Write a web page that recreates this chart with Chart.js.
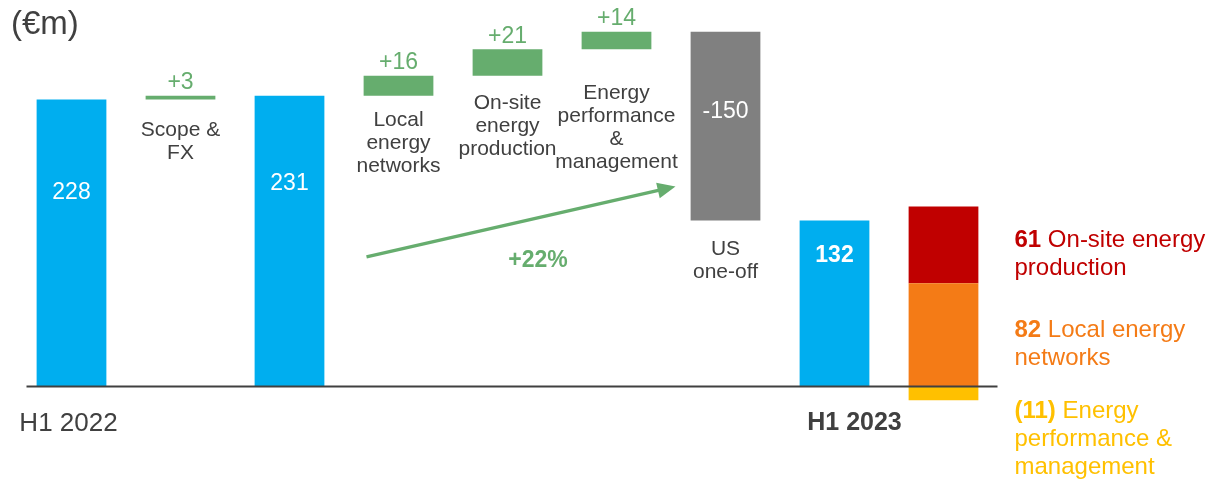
<!DOCTYPE html>
<html><head><meta charset="utf-8">
<script src="https://cdn.jsdelivr.net/npm/chart.js@4"></script>
<style>html,body{margin:0;padding:0;background:#fff}#wrap{width:1207px;height:483px;position:relative}</style>
</head><body><div id="wrap"><canvas id="c"></canvas></div>
<script>
// ---- data ----
const categories = [
  ['H1 2022'], ['Scope &', 'FX'], [''], ['Local', 'energy', 'networks'],
  ['On-site', 'energy', 'production'], ['Energy', 'performance', '&', 'management'],
  ['US', 'one-off'], ['H1 2023'], ['']
];
const steps = [228, 3, 231, 16, 21, 14, -150, 132];
const stepKinds = ['total', 'delta', 'total', 'delta', 'delta', 'delta', 'delta', 'total'];
const stepLabels = ['228', '+3', '231', '+16', '+21', '+14', '-150', '132'];
const breakdownValues = [82, 61, -11];
const breakdownNumbers = ['82', '61', '(11)'];
const breakdownNames = [['Local energy', 'networks'], ['On-site energy', 'production'], ['Energy', 'performance &', 'management']];
const growthLabel = '+22%';
const unitLabel = '(€m)';

// ---- styles ----
const BLUE = '#00AEEF', GREEN = '#66AD6E', GREY = '#808080', TXT = '#404040';
const breakdownColors = ['#F47B16', '#C00000', '#FFC000'];
const FONT = '"Liberation Sans", Arial, sans-serif';

// build floating ranges
let running = 0;
const ranges = [], colors = [];
steps.forEach((v, i) => {
  if (stepKinds[i] === 'total') { ranges.push([0, v]); running = v; colors.push(BLUE); }
  else { ranges.push([running, running + v]); running += v; colors.push(v >= 0 ? GREEN : GREY); }
});
ranges.push(null); colors.push(BLUE);

let pos = 0, neg = 0;
const bdDatasets = breakdownValues.map((v, k) => {
  let r;
  if (v >= 0) { r = [pos, pos + v]; pos += v; } else { r = [neg + v, neg]; neg += v; }
  const d = categories.map(() => null); d[8] = r;
  return { data: d, backgroundColor: breakdownColors[k], grouped: false, barPercentage: 0.64, categoryPercentage: 1 };
});

const labelPlugin = {
  id: 'labels',
  afterDatasetsDraw(chart) {
    const ctx = chart.ctx, xs = chart.scales.x, ys = chart.scales.y;
    const y0 = ys.getPixelForValue(0);
    ctx.save();
    // baseline
    ctx.strokeStyle = TXT; ctx.lineWidth = 2;
    ctx.beginPath(); ctx.moveTo(xs.getPixelForValue(0) - 45, y0); ctx.lineTo(xs.getPixelForValue(8) + 54, y0); ctx.stroke();

    ctx.textAlign = 'center'; ctx.textBaseline = 'middle';
    // value labels
    const inOffset = [93, null, 88, null, null, null, 80, 35];
    ranges.forEach((r, i) => {
      if (!r) return;
      const x = xs.getPixelForValue(i);
      const top = ys.getPixelForValue(Math.max(r[0], r[1]));
      if (stepKinds[i] === 'delta' && steps[i] > 0) {
        ctx.fillStyle = GREEN; ctx.font = '23px ' + FONT;
        ctx.fillText(stepLabels[i], x, top - 13);
      } else {
        ctx.fillStyle = '#fff';
        ctx.font = (i === 7 ? 'bold ' : '') + '23px ' + FONT;
        ctx.fillText(stepLabels[i], x, top + inOffset[i]);
      }
    });
    // category labels
    const gap = [null, 31, null, 24, 28, 44, 29, null, null];
    ctx.fillStyle = TXT; ctx.font = '21px ' + FONT;
    categories.forEach((lines, i) => {
      if (gap[i] == null) return;
      const r = ranges[i];
      const bottom = ys.getPixelForValue(Math.min(r[0], r[1]));
      lines.forEach((t, j) => ctx.fillText(t, xs.getPixelForValue(i), bottom + gap[i] + j * 23));
    });
    ctx.font = '26px ' + FONT;
    ctx.fillText(categories[0][0], xs.getPixelForValue(0) - 3, y0 + 37);
    ctx.font = 'bold 25px ' + FONT;
    ctx.fillText(categories[7][0], xs.getPixelForValue(7) + 20, y0 + 37);

    // unit
    ctx.textAlign = 'left'; ctx.font = '33px ' + FONT; ctx.fillStyle = TXT;
    ctx.fillText(unitLabel, 11, 25);

    // growth arrow
    const ax1 = xs.getPixelForValue(3) - 32, ay1 = ys.getPixelForValue(103);
    const ax2 = xs.getPixelForValue(6) - 50, ay2 = ys.getPixelForValue(159);
    const ang = Math.atan2(ay2 - ay1, ax2 - ax1);
    ctx.strokeStyle = GREEN; ctx.fillStyle = GREEN; ctx.lineWidth = 3.5;
    ctx.beginPath(); ctx.moveTo(ax1, ay1);
    ctx.lineTo(ax2 - 12 * Math.cos(ang), ay2 - 12 * Math.sin(ang)); ctx.stroke();
    ctx.beginPath(); ctx.moveTo(ax2, ay2);
    ctx.lineTo(ax2 - 18 * Math.cos(ang) + 8 * Math.sin(ang), ay2 - 18 * Math.sin(ang) - 8 * Math.cos(ang));
    ctx.lineTo(ax2 - 18 * Math.cos(ang) - 8 * Math.sin(ang), ay2 - 18 * Math.sin(ang) + 8 * Math.cos(ang));
    ctx.closePath(); ctx.fill();
    ctx.textAlign = 'center'; ctx.font = 'bold 23px ' + FONT;
    ctx.fillText(growthLabel, (xs.getPixelForValue(4) + xs.getPixelForValue(5)) / 2 - 24, ys.getPixelForValue(100));

    // breakdown legend
    const lx = xs.getPixelForValue(8) + 71;
    const order = [1, 0, 2];
    const startY = [240, 330, 411];
    ctx.textAlign = 'left';
    order.forEach((k, n) => {
      ctx.fillStyle = breakdownColors[k];
      breakdownNames[k].forEach((t, j) => {
        let x = lx; const y = startY[n] + j * 28;
        if (j === 0) {
          ctx.font = 'bold 24px ' + FONT;
          const s = breakdownNumbers[k] + ' ';
          ctx.fillText(s, x, y); x += ctx.measureText(s).width;
        }
        ctx.font = '24px ' + FONT;
        ctx.fillText(t, x, y);
      });
    });
    ctx.restore();
  }
};

new Chart(document.getElementById('c'), {
  type: 'bar',
  data: {
    labels: categories.map(l => l.join(' ')),
    datasets: [
      { data: ranges, backgroundColor: colors, grouped: false, barPercentage: 0.64, categoryPercentage: 1 },
      ...bdDatasets
    ]
  },
  options: {
    responsive: true, maintainAspectRatio: false, animation: false,
    layout: { padding: { left: 17, right: 209, top: 9, bottom: 21 } },
    plugins: { legend: { display: false }, tooltip: { enabled: false } },
    scales: {
      x: { display: false },
      y: { display: false, min: -60, max: 300 }
    }
  },
  plugins: [labelPlugin]
});
</script></body></html>
